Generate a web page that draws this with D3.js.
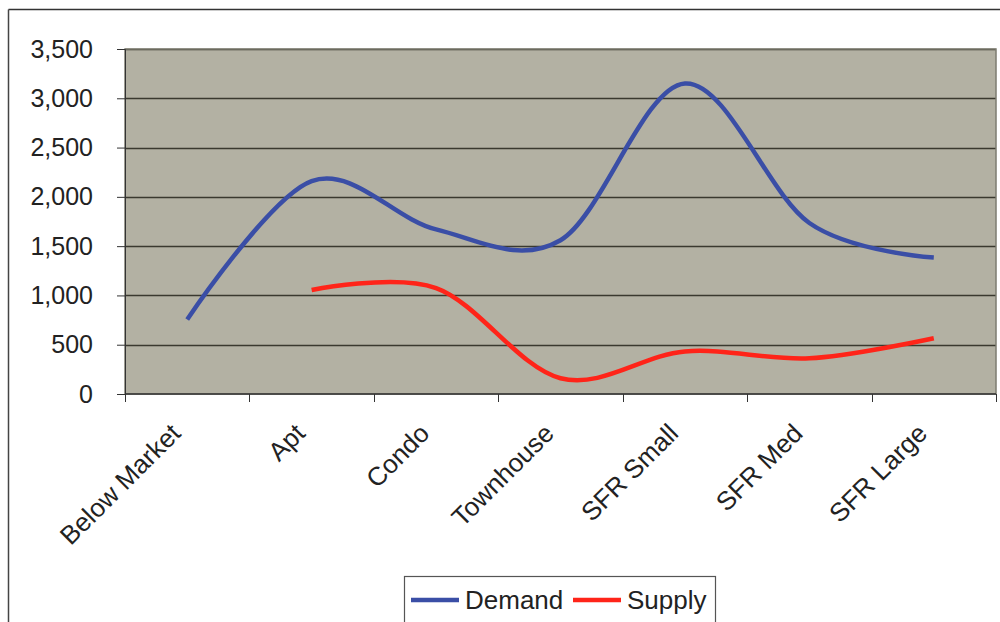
<!DOCTYPE html>
<html>
<head>
<meta charset="utf-8">
<script src="https://cdn.jsdelivr.net/npm/d3@7"></script>
<style>
  body { margin: 0; background: #fff; }
  svg { display: block; font-family: "Liberation Sans", Arial, sans-serif; }
</style>
</head>
<body>
<svg id="chart" width="1000" height="622"></svg>
<script>
// housing types along the x axis
var categories = ["Below Market", "Apt", "Condo", "Townhouse", "SFR Small", "SFR Med", "SFR Large"];
// (units)
var demand = [755, 2160, 1670, 1560, 3150, 1735, 1385];
var supply = [null, 1055, 1075, 160, 432, 362, 565];
var yTicks = [0, 500, 1000, 1500, 2000, 2500, 3000, 3500];
var seriesNames = ["Demand", "Supply"];

var svg = d3.select("#chart");
var margin = {left: 125, right: 4, top: 49, bottom: 228};
var width = 1000 - margin.left - margin.right,
    height = 622 - margin.top - margin.bottom;

var colors = {Demand: "#3a4ea6", Supply: "#ff2419"};

// outer frame (only top & left show in the picture)
svg.append("line").attr("x1", 8.5).attr("x2", 1000).attr("y1", 9.5).attr("y2", 9.5)
   .attr("stroke", "#333").attr("stroke-width", 1.5);
svg.append("line").attr("x1", 8.5).attr("x2", 8.5).attr("y1", 9.5).attr("y2", 622)
   .attr("stroke", "#444").attr("stroke-width", 1.5);

var x = d3.scaleBand().domain(categories).range([0, width]);
var y = d3.scaleLinear().domain([0, 3500]).range([height, 0]);

var g = svg.append("g").attr("transform", "translate(" + margin.left + "," + margin.top + ")");

g.append("rect").attr("width", width).attr("height", height)
  .attr("fill", "#b3b1a3");

// gridlines
g.append("g").selectAll("line").data(yTicks.slice(1)).enter().append("line")
  .attr("x1", 0).attr("x2", width)
  .attr("y1", function(d) { return Math.round(y(d)) + 0.5; })
  .attr("y2", function(d) { return Math.round(y(d)) + 0.5; })
  .attr("stroke", "#3a392f").attr("stroke-width", 1.3);

g.append("rect").attr("width", width).attr("height", height)
  .attr("fill", "none").attr("stroke", "#7d7c70").attr("stroke-width", 1.5);

// y axis
var yAxis = g.append("g")
  .call(d3.axisLeft(y).tickValues(yTicks).tickSize(8).tickPadding(24).tickFormat(d3.format(",")));
yAxis.attr("font-size", null).attr("font-family", null);
yAxis.select(".domain").attr("stroke", "#333");
yAxis.selectAll(".tick line").attr("stroke", "#333");
yAxis.selectAll("text").style("font-size", "25px").attr("fill", "#222");

// x axis: ticks on band edges
var xAxisG = g.append("g").attr("transform", "translate(0," + height + ")");
xAxisG.append("line").attr("x1", 0).attr("x2", width).attr("stroke", "#333").attr("stroke-width", 1.3);
var edges = categories.map(function(c) { return x(c); }).concat([width]);
xAxisG.selectAll(".edge").data(edges).enter().append("line")
  .attr("class", "edge")
  .attr("x1", function(d) { return Math.round(d) + 0.5; })
  .attr("x2", function(d) { return Math.round(d) + 0.5; })
  .attr("y1", 0).attr("y2", 8).attr("stroke", "#333");
xAxisG.selectAll("text").data(categories).enter().append("text")
  .attr("transform", function(d) {
    return "translate(" + (x(d) + x.bandwidth() / 2 - 5) + ",41) rotate(-45)";
  })
  .attr("text-anchor", "end")
  .style("font-size", "26px").attr("fill", "#222")
  .text(function(d) { return d; });

// lines (smoothed like Excel)
var line = d3.line()
  .x(function(d) { return x(d.c) + x.bandwidth() / 2; })
  .y(function(d) { return y(d.v); })
  .curve(d3.curveCardinal.tension(0));

function toPts(arr) {
  return categories.map(function(c, i) { return {c: c, v: arr[i]}; })
    .filter(function(d) { return d.v != null; });
}

g.append("path").datum(toPts(demand)).attr("d", line)
  .attr("fill", "none").attr("stroke", colors.Demand).attr("stroke-width", 4.5);
g.append("path").datum(toPts(supply)).attr("d", line)
  .attr("fill", "none").attr("stroke", colors.Supply).attr("stroke-width", 4.5);

// legend
var leg = svg.append("g").attr("transform", "translate(404,576)");
leg.append("rect").attr("x", 0.5).attr("y", 0.5).attr("width", 311).attr("height", 60)
  .attr("fill", "#fff").attr("stroke", "#555").attr("stroke-width", 1.2);
var offs = [7, 169];
seriesNames.forEach(function(s, i) {
  leg.append("line").attr("x1", offs[i]).attr("x2", offs[i] + 48).attr("y1", 24).attr("y2", 24)
    .attr("stroke", colors[s]).attr("stroke-width", 4.5);
  leg.append("text").attr("x", offs[i] + 54).attr("y", 33)
    .style("font-size", "26px").attr("fill", "#222").text(s);
});
</script>
</body>
</html>
